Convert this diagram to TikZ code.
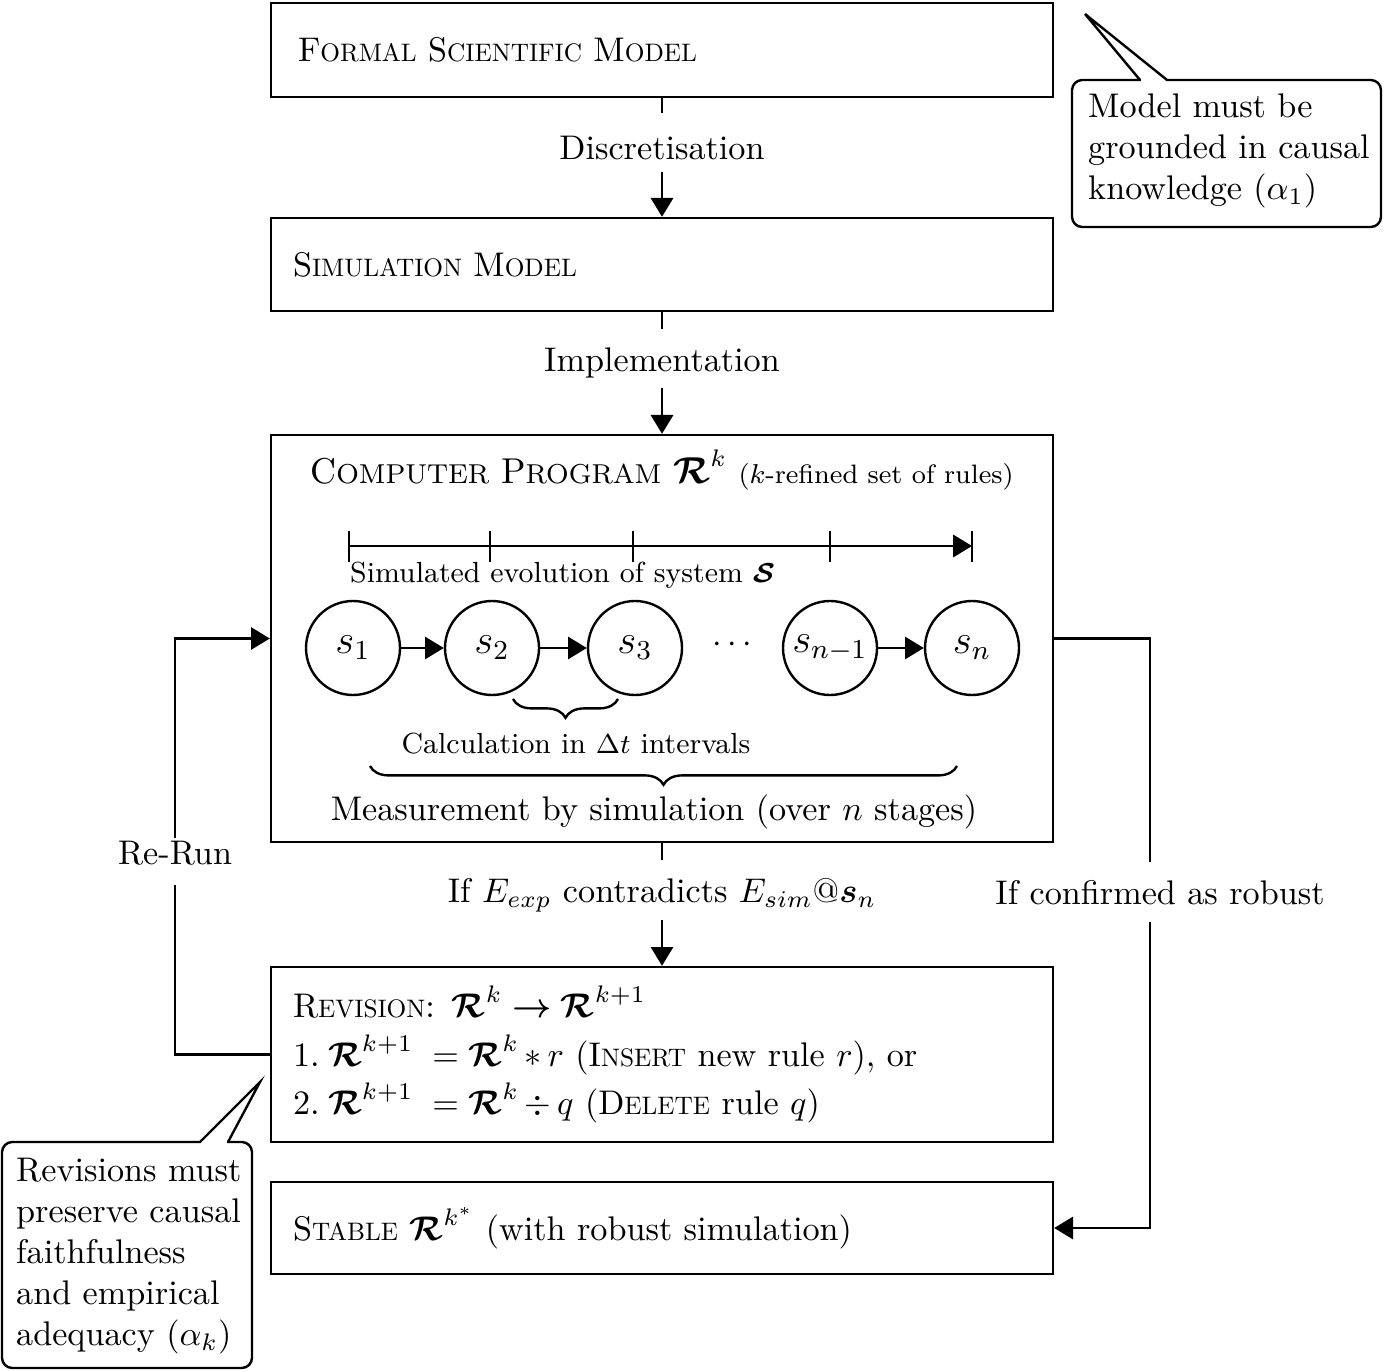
\documentclass[tikz,border=0pt]{standalone}
\usepackage{amsmath,amssymb,bm,graphicx}
\usetikzlibrary{arrows.meta,decorations.pathreplacing,calc}
\newcommand\fsc[2]{#1\scalebox{0.74}{#2}}
\begin{document}
\begin{tikzpicture}[x=0.2925pt,y=-0.2925pt,line width=0.7pt,
  arr/.style={-{Triangle[length=5.5pt,width=6.5pt]}},
  bigbox/.style={draw,minimum width=782*0.2925pt,align=left,inner xsep=22*0.2925pt,
     text width=738*0.2925pt},
  lbl/.style={inner sep=0pt},
  state/.style={circle,draw,minimum size=94*0.2925pt,inner sep=0pt,font=\large},
  brc/.style={decorate,decoration={brace,mirror,amplitude=5.5pt}}]
\useasboundingbox (0,0) rectangle (1384,1371);

% main boxes
\node[bigbox,minimum height=94*0.2925pt] (form) at (662,50) {\hspace*{1.5pt}\fsc{F}{ORMAL} \fsc{S}{CIENTIFIC} \fsc{M}{ODEL}};
\node[bigbox,minimum height=93*0.2925pt] (sim) at (662,264.5) {\fsc{S}{IMULATION} \fsc{M}{ODEL}};
\node[draw,minimum width=782*0.2925pt,minimum height=407*0.2925pt] (comp) at (662,638.5) {};
\node[bigbox,minimum height=175*0.2925pt] (rev) at (662,1054.5) {\fsc{R}{EVISION}: $\bm{\mathcal{R}}^k \bm{\rightarrow} \bm{\mathcal{R}}^{k+1}$\\[2.2pt]
1.\hspace{2.5pt}$\bm{\mathcal{R}}^{k+1}\;= \bm{\mathcal{R}}^k\,{\ast}\, r$ (\fsc{I}{NSERT} new rule $r$), or\\[2.2pt]
2.\hspace{2.5pt}$\bm{\mathcal{R}}^{k+1}\;= \bm{\mathcal{R}}^k\,{\div}\, q$ (\fsc{D}{ELETE} rule $q$)};
\node[bigbox,minimum height=92*0.2925pt] (stab) at (662,1228) {\fsc{S}{TABLE} $\bm{\mathcal{R}}^{k^*}$ (with robust simulation)};

% vertical flow labels
\node[lbl] (l1) at (662,148) {Discretisation};
\node[lbl] (l2) at (662,363) {Implementation};
\node[lbl] (l3) at (662,895) {If $E_{exp}$ contradicts $E_{sim}$@$\bm{s}_n$};
\coordinate (g1a) at (662,113); \coordinate (g1b) at (662,172);
\coordinate (g2a) at (662,329); \coordinate (g2b) at (662,388);
\coordinate (g3a) at (662,860); \coordinate (g3b) at (662,920);
\draw (form.south) -- (g1a);
\draw[arr] (g1b) -- (sim.north);
\draw (sim.south) -- (g2a);
\draw[arr] (g2b) -- (comp.north);
\draw (comp.south) -- (g3a);
\draw[arr] (g3b) -- (rev.north);

% computer program contents
\node[inner sep=0pt] (ctitle) at (662,470) {{\fontsize{10.5}{13}\selectfont C{\fontsize{8}{0}\selectfont OMPUTER} P{\fontsize{8}{0}\selectfont ROGRAM} $\bm{\mathcal{R}}^k$} {\fontsize{7.8}{10}\selectfont($k$-refined set of rules)}};
\coordinate (t0) at (349,546); \coordinate (t4) at (972,546);
\draw[arr] (t0) -- (t4);
\foreach \xx in {349,490,633,830,972} \draw (\xx,531) -- (\xx,562);
\node[lbl,anchor=west,font=\fontsize{8.5}{10}\selectfont] (evo) at (349,575) {Simulated evolution of system $\bm{\mathcal{S}}$};

\node[state] (s1) at (353,648) {$s_1$};
\node[state] (s2) at (492,648) {$s_2$};
\node[state] (s3) at (635,648) {$s_3$};
\node[lbl] (dots) at (735,645) {$\cdots$};
\node[state] (sn1) at (830,648) {$s_{n-1}$};
\node[state] (sn) at (972,648) {$s_n$};
\draw[arr] (s1) -- (s2);
\draw[arr] (s2) -- (s3);
\draw[arr] (sn1) -- (sn);

\draw[brc] (513,699) -- (618,699);
\node[lbl,font=\fontsize{8.5}{10}\selectfont] (calc) at (576,744) {Calculation in $\Delta t$ intervals};
\draw[brc] (370,766) -- (957,766);
\node[lbl] (meas) at (654,812) {Measurement by simulation (over $n$ stages)};

% loops
\node[lbl] (rerun) at (175,853) {Re-Run};
\coordinate (ra) at (175,838); \coordinate (rb) at (175,885);
\draw (rev.west) -| (rb);
\draw[arr] (ra) |- (comp.west);
\node[lbl] (conf) at (1160,893) {If confirmed as robust};
\coordinate (ca) at (1150,862); \coordinate (cb) at (1150,922);
\draw (comp.east) -| (ca);
\draw[arr] (cb) |- (stab.east);

% callout 1
\draw[rounded corners=3pt] (1072,80) rectangle (1381,227);
\fill[white] (1141,76) rectangle (1166,84);
\draw (1140,80) -- (1085,14) -- (1167,80);
\node[lbl,anchor=west,align=left] (c1) at (1087,151) {Model must be\\grounded in causal\\knowledge ($\alpha_1$)};

% callout 2
\draw[rounded corners=3pt] (2,1142) rectangle (252,1368);
\fill[white] (201,1138) rectangle (227,1146);
\draw (200,1142) -- (260,1082) -- (228,1142);
\node[lbl,anchor=west,align=left] (c2) at (15,1256) {Revisions must\\preserve causal\\faithfulness\\and empirical\\adequacy ($\alpha_k$)};
\end{tikzpicture}
\end{document}
